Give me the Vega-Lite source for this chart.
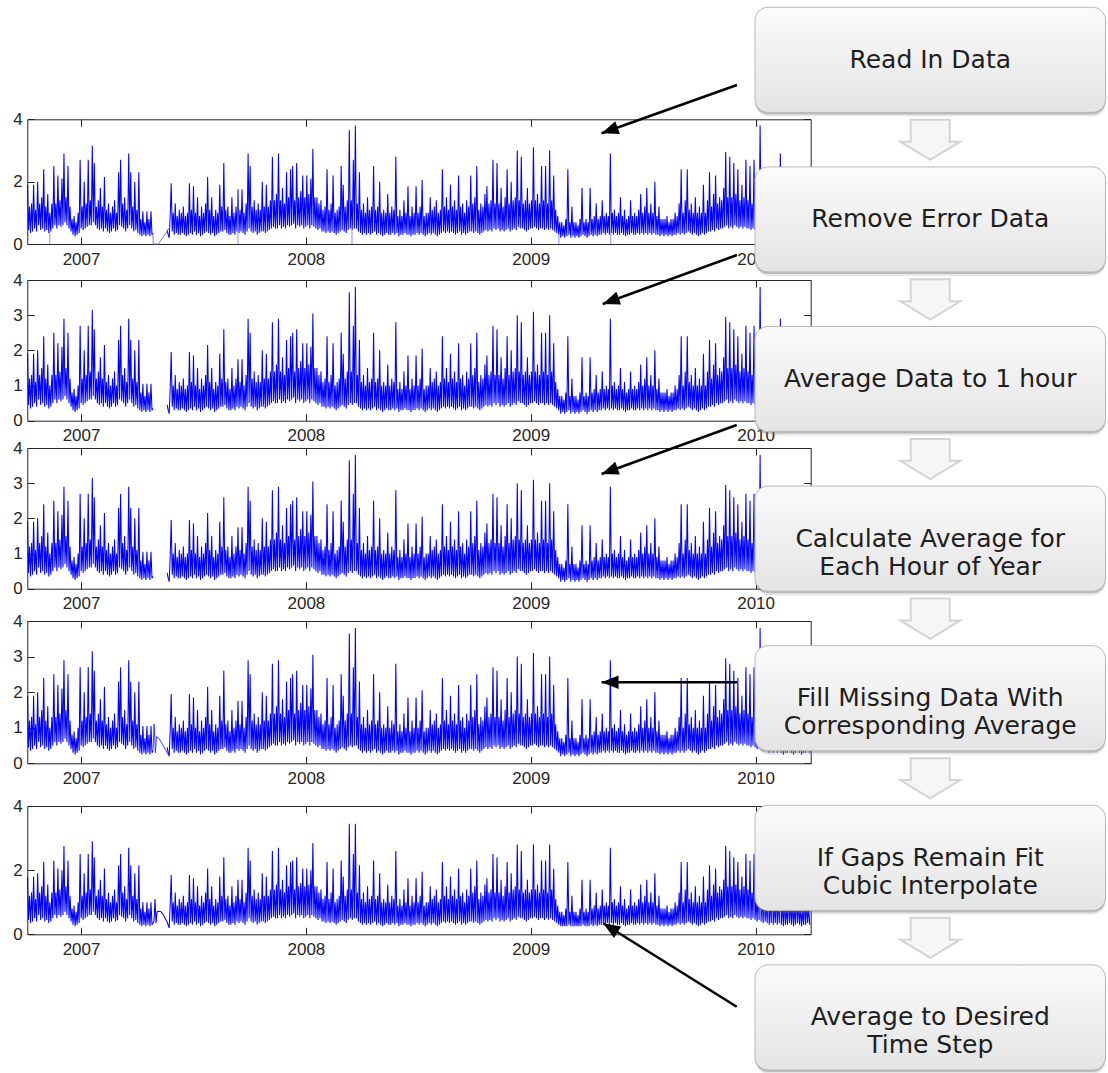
{
  "$schema": "https://vega.github.io/schema/vega-lite/v6.json",
  "width": 1108,
  "height": 1073,
  "autosize": {"type": "none"},
  "padding": 0,
  "background": "#ffffff",
  "config": {
    "view": {"stroke": null},
    "axis": {"grid": false, "labelFont": "Liberation Sans", "labelFontSize": 17, "labelColor": "#262626", "domainColor": "#262626", "tickColor": "#262626", "domainWidth": 1, "tickWidth": 1, "labelFlush": false, "labelOverlap": false}
  },
  "datasets": {
    "series": [
      {"t":2006.762,"v":1.9,"s":1.8},{"t":2006.7665,"v":0.45,"s":0.45},{"t":2006.771,"v":1.2,"s":1.2},{"t":2006.7755,"v":0.35,"s":0.35},
      {"t":2006.780,"v":1.3,"s":1.3},{"t":2006.7845,"v":0.4,"s":0.4},{"t":2006.789,"v":1.9,"s":1.8},{"t":2006.7935,"v":0.5,"s":0.5},
      {"t":2006.798,"v":1.1,"s":1.1},{"t":2006.8025,"v":0.4,"s":0.4},{"t":2006.807,"v":2.0,"s":1.9},{"t":2006.8115,"v":0.6,"s":0.6},
      {"t":2006.816,"v":1.3,"s":1.3},{"t":2006.8205,"v":0.45,"s":0.45},{"t":2006.825,"v":1.5,"s":1.5},{"t":2006.8295,"v":0.5,"s":0.5},
      {"t":2006.834,"v":2.4,"s":2.25},{"t":2006.8385,"v":0.4,"s":0.4},{"t":2006.843,"v":1.2,"s":1.2},{"t":2006.8475,"v":0.45,"s":0.45},
      {"t":2006.852,"v":1.6,"s":1.55},{"t":2006.8565,"v":0.35,"s":0.35},{"t":2006.861,"v":1.0,"s":1.0},{"t":2006.8655,"v":0.4,"s":0.4},
      {"t":2006.870,"v":1.3,"s":1.3},{"t":2006.8745,"v":0.5,"s":0.5},{"t":2006.879,"v":2.5,"s":2.3},{"t":2006.8835,"v":0.6,"s":0.6},
      {"t":2006.888,"v":1.3,"s":1.3},{"t":2006.8925,"v":0.5,"s":0.5},{"t":2006.897,"v":2.2,"s":2.05},{"t":2006.9015,"v":0.6,"s":0.6},
      {"t":2006.906,"v":1.4,"s":1.4},{"t":2006.9105,"v":0.55,"s":0.55},{"t":2006.915,"v":2.1,"s":2.0},{"t":2006.9195,"v":0.6,"s":0.6},
      {"t":2006.924,"v":2.9,"s":2.75},{"t":2006.9285,"v":0.7,"s":0.7},{"t":2006.933,"v":1.5,"s":1.5},{"t":2006.9375,"v":0.6,"s":0.6},
      {"t":2006.942,"v":2.5,"s":2.3},{"t":2006.9465,"v":0.5,"s":0.5},{"t":2006.951,"v":1.2,"s":1.2},{"t":2006.9555,"v":0.4,"s":0.4},
      {"t":2006.960,"v":0.8,"s":0.8},{"t":2006.9645,"v":0.3,"s":0.3},{"t":2006.969,"v":0.9,"s":0.9},{"t":2006.9735,"v":0.25,"s":0.25},
      {"t":2006.978,"v":0.7,"s":0.7},{"t":2006.9825,"v":0.3,"s":0.3},{"t":2006.987,"v":1.0,"s":1.0},{"t":2006.9915,"v":0.35,"s":0.35},
      {"t":2006.996,"v":2.7,"s":2.5},{"t":2007.0005,"v":0.5,"s":0.5},{"t":2007.005,"v":1.2,"s":1.2},{"t":2007.0095,"v":0.45,"s":0.45},
      {"t":2007.014,"v":2.0,"s":1.9},{"t":2007.0185,"v":0.5,"s":0.5},{"t":2007.023,"v":1.3,"s":1.3},{"t":2007.0275,"v":0.55,"s":0.55},
      {"t":2007.032,"v":2.7,"s":2.5},{"t":2007.0365,"v":0.6,"s":0.6},{"t":2007.041,"v":1.4,"s":1.4},{"t":2007.0455,"v":0.6,"s":0.6},
      {"t":2007.050,"v":3.15,"s":2.9},{"t":2007.0545,"v":0.7,"s":0.7},{"t":2007.059,"v":2.6,"s":2.4},{"t":2007.0635,"v":0.6,"s":0.6},
      {"t":2007.068,"v":1.2,"s":1.2},{"t":2007.0725,"v":0.5,"s":0.5},{"t":2007.077,"v":1.4,"s":1.4},{"t":2007.0815,"v":0.45,"s":0.45},
      {"t":2007.086,"v":1.8,"s":1.7},{"t":2007.0905,"v":0.5,"s":0.5},{"t":2007.095,"v":1.2,"s":1.2},{"t":2007.0995,"v":0.4,"s":0.4},
      {"t":2007.104,"v":2.15,"s":2.05},{"t":2007.1085,"v":0.5,"s":0.5},{"t":2007.113,"v":1.1,"s":1.1},{"t":2007.1175,"v":0.4,"s":0.4},
      {"t":2007.122,"v":1.3,"s":1.3},{"t":2007.1265,"v":0.35,"s":0.35},{"t":2007.131,"v":1.0,"s":1.0},{"t":2007.1355,"v":0.4,"s":0.4},
      {"t":2007.140,"v":1.2,"s":1.2},{"t":2007.1445,"v":0.5,"s":0.5},{"t":2007.149,"v":1.4,"s":1.4},{"t":2007.1535,"v":0.4,"s":0.4},
      {"t":2007.158,"v":1.0,"s":1.0},{"t":2007.1625,"v":0.45,"s":0.45},{"t":2007.167,"v":2.3,"s":2.15},{"t":2007.1715,"v":0.6,"s":0.6},
      {"t":2007.176,"v":2.7,"s":2.5},{"t":2007.1805,"v":0.55,"s":0.55},{"t":2007.185,"v":1.3,"s":1.3},{"t":2007.1895,"v":0.5,"s":0.5},
      {"t":2007.194,"v":1.5,"s":1.5},{"t":2007.1985,"v":0.4,"s":0.4},{"t":2007.203,"v":1.1,"s":1.1},{"t":2007.2075,"v":0.5,"s":0.5},
      {"t":2007.212,"v":2.9,"s":2.7},{"t":2007.2165,"v":0.6,"s":0.6},{"t":2007.221,"v":2.3,"s":2.15},{"t":2007.2255,"v":0.5,"s":0.5},
      {"t":2007.230,"v":1.2,"s":1.2},{"t":2007.2345,"v":0.4,"s":0.4},{"t":2007.239,"v":2.0,"s":1.9},{"t":2007.2435,"v":0.45,"s":0.45},
      {"t":2007.248,"v":1.1,"s":1.1},{"t":2007.2525,"v":0.35,"s":0.35},{"t":2007.257,"v":2.3,"s":2.15},{"t":2007.2615,"v":0.3,"s":0.3},
      {"t":2007.266,"v":0.8,"s":0.8},{"t":2007.2705,"v":0.25,"s":0.25},{"t":2007.275,"v":1.05,"s":1.0},{"t":2007.2795,"v":0.3,"s":0.3},
      {"t":2007.284,"v":0.7,"s":0.7},{"t":2007.2885,"v":0.25,"s":0.25},{"t":2007.293,"v":1.05,"s":1.0},{"t":2007.2975,"v":0.3,"s":0.3},
      {"t":2007.302,"v":0.8,"s":0.8},{"t":2007.3065,"v":0.25,"s":0.25},{"t":2007.311,"v":1.05,"s":1.0},{"t":2007.3155,"v":0.3,"s":0.3},
      {"t":2007.320,"v":0.35,"s":0.35},{"t":2007.3245,"s":0.4},{"t":2007.329,"s":1.1},{"t":2007.3335,"s":0.35},
      {"t":2007.338,"s":0.7},{"t":2007.3425,"s":0.71},{"t":2007.347,"s":0.72},{"t":2007.3515,"s":0.71},
      {"t":2007.356,"s":0.7},{"t":2007.3605,"s":0.66},{"t":2007.365,"s":0.62},{"t":2007.3695,"s":0.56},
      {"t":2007.374,"s":0.5},{"t":2007.3785,"s":0.44},{"t":2007.383,"v":0.45,"s":0.38},{"t":2007.3875,"v":0.3,"s":0.29},
      {"t":2007.392,"v":0.2,"s":0.2},{"t":2007.3965,"v":0.9,"s":0.9},{"t":2007.401,"v":1.95,"s":1.85},{"t":2007.4055,"v":0.4,"s":0.4},
      {"t":2007.410,"v":1.0,"s":1.0},{"t":2007.4145,"v":0.3,"s":0.3},{"t":2007.419,"v":1.3,"s":1.3},{"t":2007.4235,"v":0.35,"s":0.35},
      {"t":2007.428,"v":0.9,"s":0.9},{"t":2007.4325,"v":0.3,"s":0.3},{"t":2007.437,"v":1.1,"s":1.1},{"t":2007.4415,"v":0.3,"s":0.3},
      {"t":2007.446,"v":1.0,"s":1.0},{"t":2007.4505,"v":0.35,"s":0.35},{"t":2007.455,"v":1.2,"s":1.2},{"t":2007.4595,"v":0.3,"s":0.3},
      {"t":2007.464,"v":0.9,"s":0.9},{"t":2007.4685,"v":0.25,"s":0.25},{"t":2007.473,"v":1.0,"s":1.0},{"t":2007.4775,"v":0.3,"s":0.3},
      {"t":2007.482,"v":1.95,"s":1.85},{"t":2007.4865,"v":0.35,"s":0.35},{"t":2007.491,"v":1.1,"s":1.1},{"t":2007.4955,"v":0.3,"s":0.3},
      {"t":2007.500,"v":1.85,"s":1.75},{"t":2007.5045,"v":0.4,"s":0.4},{"t":2007.509,"v":1.0,"s":1.0},{"t":2007.5135,"v":0.3,"s":0.3},
      {"t":2007.518,"v":1.5,"s":1.5},{"t":2007.5225,"v":0.35,"s":0.35},{"t":2007.527,"v":0.9,"s":0.9},{"t":2007.5315,"v":0.25,"s":0.25},
      {"t":2007.536,"v":1.2,"s":1.2},{"t":2007.5405,"v":0.3,"s":0.3},{"t":2007.545,"v":1.0,"s":1.0},{"t":2007.5495,"v":0.35,"s":0.35},
      {"t":2007.554,"v":1.3,"s":1.3},{"t":2007.5585,"v":0.4,"s":0.4},{"t":2007.563,"v":2.15,"s":2.05},{"t":2007.5675,"v":0.35,"s":0.35},
      {"t":2007.572,"v":1.1,"s":1.1},{"t":2007.5765,"v":0.3,"s":0.3},{"t":2007.581,"v":1.5,"s":1.5},{"t":2007.5855,"v":0.35,"s":0.35},
      {"t":2007.590,"v":0.9,"s":0.9},{"t":2007.5945,"v":0.25,"s":0.25},{"t":2007.599,"v":1.1,"s":1.1},{"t":2007.6035,"v":0.3,"s":0.3},
      {"t":2007.608,"v":1.0,"s":1.0},{"t":2007.6125,"v":0.35,"s":0.35},{"t":2007.617,"v":1.9,"s":1.8},{"t":2007.6215,"v":0.4,"s":0.4},
      {"t":2007.626,"v":1.2,"s":1.2},{"t":2007.6305,"v":0.4,"s":0.4},{"t":2007.635,"v":2.6,"s":2.4},{"t":2007.6395,"v":0.45,"s":0.45},
      {"t":2007.644,"v":1.1,"s":1.1},{"t":2007.6485,"v":0.35,"s":0.35},{"t":2007.653,"v":1.2,"s":1.2},{"t":2007.6575,"v":0.3,"s":0.3},
      {"t":2007.662,"v":0.9,"s":0.9},{"t":2007.6665,"v":0.3,"s":0.3},{"t":2007.671,"v":1.5,"s":1.5},{"t":2007.6755,"v":0.35,"s":0.35},
      {"t":2007.680,"v":1.0,"s":1.0},{"t":2007.6845,"v":0.3,"s":0.3},{"t":2007.689,"v":1.2,"s":1.2},{"t":2007.6935,"v":0.4,"s":0.4},
      {"t":2007.698,"v":1.75,"s":1.7},{"t":2007.7025,"v":0.35,"s":0.35},{"t":2007.707,"v":1.1,"s":1.1},{"t":2007.7115,"v":0.4,"s":0.4},
      {"t":2007.716,"v":1.75,"s":1.7},{"t":2007.7205,"v":0.35,"s":0.35},{"t":2007.725,"v":1.0,"s":1.0},{"t":2007.7295,"v":0.3,"s":0.3},
      {"t":2007.734,"v":1.3,"s":1.3},{"t":2007.7385,"v":0.4,"s":0.4},{"t":2007.743,"v":2.9,"s":2.7},{"t":2007.7475,"v":0.5,"s":0.5},
      {"t":2007.752,"v":2.5,"s":2.3},{"t":2007.7565,"v":0.4,"s":0.4},{"t":2007.761,"v":1.2,"s":1.2},{"t":2007.7655,"v":0.35,"s":0.35},
      {"t":2007.770,"v":1.4,"s":1.4},{"t":2007.7745,"v":0.4,"s":0.4},{"t":2007.779,"v":1.1,"s":1.1},{"t":2007.7835,"v":0.3,"s":0.3},
      {"t":2007.788,"v":1.3,"s":1.3},{"t":2007.7925,"v":0.35,"s":0.35},{"t":2007.797,"v":1.1,"s":1.1},{"t":2007.8015,"v":0.4,"s":0.4},
      {"t":2007.806,"v":2.0,"s":1.9},{"t":2007.8105,"v":0.4,"s":0.4},{"t":2007.815,"v":1.2,"s":1.2},{"t":2007.8195,"v":0.35,"s":0.35},
      {"t":2007.824,"v":1.9,"s":1.8},{"t":2007.8285,"v":0.4,"s":0.4},{"t":2007.833,"v":1.2,"s":1.2},{"t":2007.8375,"v":0.45,"s":0.45},
      {"t":2007.842,"v":1.4,"s":1.4},{"t":2007.8465,"v":0.5,"s":0.5},{"t":2007.851,"v":2.8,"s":2.6},{"t":2007.8555,"v":0.55,"s":0.55},
      {"t":2007.860,"v":1.4,"s":1.4},{"t":2007.8645,"v":0.5,"s":0.5},{"t":2007.869,"v":1.6,"s":1.55},{"t":2007.8735,"v":0.5,"s":0.5},
      {"t":2007.878,"v":2.9,"s":2.7},{"t":2007.8825,"v":0.6,"s":0.6},{"t":2007.887,"v":1.4,"s":1.4},{"t":2007.8915,"v":0.5,"s":0.5},
      {"t":2007.896,"v":1.8,"s":1.7},{"t":2007.9005,"v":0.55,"s":0.55},{"t":2007.905,"v":1.3,"s":1.3},{"t":2007.9095,"v":0.5,"s":0.5},
      {"t":2007.914,"v":2.3,"s":2.15},{"t":2007.9185,"v":0.6,"s":0.6},{"t":2007.923,"v":1.5,"s":1.5},{"t":2007.9275,"v":0.55,"s":0.55},
      {"t":2007.932,"v":2.4,"s":2.25},{"t":2007.9365,"v":0.6,"s":0.6},{"t":2007.941,"v":2.5,"s":2.3},{"t":2007.9455,"v":0.65,"s":0.65},
      {"t":2007.950,"v":1.4,"s":1.4},{"t":2007.9545,"v":0.5,"s":0.5},{"t":2007.959,"v":2.6,"s":2.4},{"t":2007.9635,"v":0.6,"s":0.6},
      {"t":2007.968,"v":1.5,"s":1.5},{"t":2007.9725,"v":0.55,"s":0.55},{"t":2007.977,"v":1.7,"s":1.6},{"t":2007.9815,"v":0.6,"s":0.6},
      {"t":2007.986,"v":2.2,"s":2.05},{"t":2007.9905,"v":0.5,"s":0.5},{"t":2007.995,"v":1.5,"s":1.5},{"t":2007.9995,"v":0.55,"s":0.55},
      {"t":2008.004,"v":2.2,"s":2.05},{"t":2008.0085,"v":0.6,"s":0.6},{"t":2008.013,"v":1.6,"s":1.55},{"t":2008.0175,"v":0.5,"s":0.5},
      {"t":2008.022,"v":2.1,"s":2.0},{"t":2008.0265,"v":0.6,"s":0.6},{"t":2008.031,"v":3.05,"s":2.85},{"t":2008.0355,"v":0.55,"s":0.55},
      {"t":2008.040,"v":1.5,"s":1.5},{"t":2008.0445,"v":0.5,"s":0.5},{"t":2008.049,"v":1.5,"s":1.5},{"t":2008.0535,"v":0.45,"s":0.45},
      {"t":2008.058,"v":1.3,"s":1.3},{"t":2008.0625,"v":0.5,"s":0.5},{"t":2008.067,"v":1.4,"s":1.4},{"t":2008.0715,"v":0.4,"s":0.4},
      {"t":2008.076,"v":1.1,"s":1.1},{"t":2008.0805,"v":0.4,"s":0.4},{"t":2008.085,"v":1.2,"s":1.2},{"t":2008.0895,"v":0.35,"s":0.35},
      {"t":2008.094,"v":2.4,"s":2.25},{"t":2008.0985,"v":0.4,"s":0.4},{"t":2008.103,"v":1.1,"s":1.1},{"t":2008.1075,"v":0.35,"s":0.35},
      {"t":2008.112,"v":1.3,"s":1.3},{"t":2008.1165,"v":0.4,"s":0.4},{"t":2008.121,"v":2.2,"s":2.05},{"t":2008.1255,"v":0.35,"s":0.35},
      {"t":2008.130,"v":1.0,"s":1.0},{"t":2008.1345,"v":0.3,"s":0.3},{"t":2008.139,"v":1.1,"s":1.1},{"t":2008.1435,"v":0.35,"s":0.35},
      {"t":2008.148,"v":1.2,"s":1.2},{"t":2008.1525,"v":0.4,"s":0.4},{"t":2008.157,"v":2.5,"s":2.3},{"t":2008.1615,"v":0.45,"s":0.45},
      {"t":2008.166,"v":1.9,"s":1.8},{"t":2008.1705,"v":0.4,"s":0.4},{"t":2008.175,"v":1.2,"s":1.2},{"t":2008.1795,"v":0.35,"s":0.35},
      {"t":2008.184,"v":1.4,"s":1.4},{"t":2008.1885,"v":0.45,"s":0.45},{"t":2008.193,"v":3.65,"s":3.45},{"t":2008.1975,"v":0.5,"s":0.5},
      {"t":2008.202,"v":1.4,"s":1.4},{"t":2008.2065,"v":0.45,"s":0.45},{"t":2008.211,"v":2.7,"s":2.5},{"t":2008.2155,"v":0.5,"s":0.5},
      {"t":2008.220,"v":3.8,"s":3.45},{"t":2008.2245,"v":0.5,"s":0.5},{"t":2008.229,"v":1.3,"s":1.3},{"t":2008.2335,"v":0.4,"s":0.4},
      {"t":2008.238,"v":2.3,"s":2.15},{"t":2008.2425,"v":0.35,"s":0.35},{"t":2008.247,"v":1.1,"s":1.1},{"t":2008.2515,"v":0.3,"s":0.3},
      {"t":2008.256,"v":1.3,"s":1.3},{"t":2008.2605,"v":0.35,"s":0.35},{"t":2008.265,"v":1.0,"s":1.0},{"t":2008.2695,"v":0.3,"s":0.3},
      {"t":2008.274,"v":1.5,"s":1.5},{"t":2008.2785,"v":0.35,"s":0.35},{"t":2008.283,"v":1.1,"s":1.1},{"t":2008.2875,"v":0.3,"s":0.3},
      {"t":2008.292,"v":1.2,"s":1.2},{"t":2008.2965,"v":0.35,"s":0.35},{"t":2008.301,"v":2.5,"s":2.3},{"t":2008.3055,"v":0.4,"s":0.4},
      {"t":2008.310,"v":1.1,"s":1.1},{"t":2008.3145,"v":0.3,"s":0.3},{"t":2008.319,"v":1.2,"s":1.2},{"t":2008.3235,"v":0.35,"s":0.35},
      {"t":2008.328,"v":2.0,"s":1.9},{"t":2008.3325,"v":0.3,"s":0.3},{"t":2008.337,"v":1.0,"s":1.0},{"t":2008.3415,"v":0.25,"s":0.25},
      {"t":2008.346,"v":1.1,"s":1.1},{"t":2008.3505,"v":0.3,"s":0.3},{"t":2008.355,"v":1.0,"s":1.0},{"t":2008.3595,"v":0.35,"s":0.35},
      {"t":2008.364,"v":1.6,"s":1.55},{"t":2008.3685,"v":0.3,"s":0.3},{"t":2008.373,"v":1.0,"s":1.0},{"t":2008.3775,"v":0.3,"s":0.3},
      {"t":2008.382,"v":1.2,"s":1.2},{"t":2008.3865,"v":0.35,"s":0.35},{"t":2008.391,"v":1.1,"s":1.1},{"t":2008.3955,"v":0.3,"s":0.3},
      {"t":2008.400,"v":2.8,"s":2.6},{"t":2008.4045,"v":0.35,"s":0.35},{"t":2008.409,"v":0.9,"s":0.9},{"t":2008.4135,"v":0.25,"s":0.25},
      {"t":2008.418,"v":1.1,"s":1.1},{"t":2008.4225,"v":0.3,"s":0.3},{"t":2008.427,"v":0.9,"s":0.9},{"t":2008.4315,"v":0.3,"s":0.3},
      {"t":2008.436,"v":1.4,"s":1.4},{"t":2008.4405,"v":0.35,"s":0.35},{"t":2008.445,"v":1.0,"s":1.0},{"t":2008.4495,"v":0.3,"s":0.3},
      {"t":2008.454,"v":1.85,"s":1.75},{"t":2008.4585,"v":0.3,"s":0.3},{"t":2008.463,"v":0.9,"s":0.9},{"t":2008.4675,"v":0.25,"s":0.25},
      {"t":2008.472,"v":1.2,"s":1.2},{"t":2008.4765,"v":0.3,"s":0.3},{"t":2008.481,"v":1.0,"s":1.0},{"t":2008.4855,"v":0.3,"s":0.3},
      {"t":2008.490,"v":1.85,"s":1.75},{"t":2008.4945,"v":0.35,"s":0.35},{"t":2008.499,"v":1.0,"s":1.0},{"t":2008.5035,"v":0.3,"s":0.3},
      {"t":2008.508,"v":1.2,"s":1.2},{"t":2008.5125,"v":0.35,"s":0.35},{"t":2008.517,"v":2.05,"s":1.95},{"t":2008.5215,"v":0.3,"s":0.3},
      {"t":2008.526,"v":0.9,"s":0.9},{"t":2008.5305,"v":0.25,"s":0.25},{"t":2008.535,"v":1.0,"s":1.0},{"t":2008.5395,"v":0.3,"s":0.3},
      {"t":2008.544,"v":1.0,"s":1.0},{"t":2008.5485,"v":0.35,"s":0.35},{"t":2008.553,"v":1.5,"s":1.5},{"t":2008.5575,"v":0.3,"s":0.3},
      {"t":2008.562,"v":1.1,"s":1.1},{"t":2008.5665,"v":0.35,"s":0.35},{"t":2008.571,"v":1.2,"s":1.2},{"t":2008.5755,"v":0.3,"s":0.3},
      {"t":2008.580,"v":1.4,"s":1.4},{"t":2008.5845,"v":0.25,"s":0.25},{"t":2008.589,"v":1.0,"s":1.0},{"t":2008.5935,"v":0.3,"s":0.3},
      {"t":2008.598,"v":1.1,"s":1.1},{"t":2008.6025,"v":0.35,"s":0.35},{"t":2008.607,"v":2.4,"s":2.25},{"t":2008.6115,"v":0.4,"s":0.4},
      {"t":2008.616,"v":1.2,"s":1.2},{"t":2008.6205,"v":0.35,"s":0.35},{"t":2008.625,"v":1.5,"s":1.5},{"t":2008.6295,"v":0.4,"s":0.4},
      {"t":2008.634,"v":1.1,"s":1.1},{"t":2008.6385,"v":0.35,"s":0.35},{"t":2008.643,"v":1.9,"s":1.8},{"t":2008.6475,"v":0.4,"s":0.4},
      {"t":2008.652,"v":1.2,"s":1.2},{"t":2008.6565,"v":0.35,"s":0.35},{"t":2008.661,"v":1.4,"s":1.4},{"t":2008.6655,"v":0.3,"s":0.3},
      {"t":2008.670,"v":1.1,"s":1.1},{"t":2008.6745,"v":0.35,"s":0.35},{"t":2008.679,"v":2.2,"s":2.05},{"t":2008.6835,"v":0.4,"s":0.4},
      {"t":2008.688,"v":1.2,"s":1.2},{"t":2008.6925,"v":0.3,"s":0.3},{"t":2008.697,"v":1.3,"s":1.3},{"t":2008.7015,"v":0.35,"s":0.35},
      {"t":2008.706,"v":1.0,"s":1.0},{"t":2008.7105,"v":0.3,"s":0.3},{"t":2008.715,"v":1.4,"s":1.4},{"t":2008.7195,"v":0.35,"s":0.35},
      {"t":2008.724,"v":1.2,"s":1.2},{"t":2008.7285,"v":0.4,"s":0.4},{"t":2008.733,"v":2.2,"s":2.05},{"t":2008.7375,"v":0.4,"s":0.4},
      {"t":2008.742,"v":1.3,"s":1.3},{"t":2008.7465,"v":0.35,"s":0.35},{"t":2008.751,"v":1.5,"s":1.5},{"t":2008.7555,"v":0.4,"s":0.4},
      {"t":2008.760,"v":2.5,"s":2.3},{"t":2008.7645,"v":0.35,"s":0.35},{"t":2008.769,"v":1.1,"s":1.1},{"t":2008.7735,"v":0.3,"s":0.3},
      {"t":2008.778,"v":1.3,"s":1.3},{"t":2008.7825,"v":0.35,"s":0.35},{"t":2008.787,"v":1.2,"s":1.2},{"t":2008.7915,"v":0.4,"s":0.4},
      {"t":2008.796,"v":1.6,"s":1.55},{"t":2008.8005,"v":0.45,"s":0.45},{"t":2008.805,"v":1.85,"s":1.75},{"t":2008.8095,"v":0.4,"s":0.4},
      {"t":2008.814,"v":1.3,"s":1.3},{"t":2008.8185,"v":0.45,"s":0.45},{"t":2008.823,"v":1.4,"s":1.4},{"t":2008.8275,"v":0.4,"s":0.4},
      {"t":2008.832,"v":2.7,"s":2.5},{"t":2008.8365,"v":0.5,"s":0.5},{"t":2008.841,"v":1.3,"s":1.3},{"t":2008.8455,"v":0.45,"s":0.45},
      {"t":2008.850,"v":2.6,"s":2.4},{"t":2008.8545,"v":0.5,"s":0.5},{"t":2008.859,"v":1.3,"s":1.3},{"t":2008.8635,"v":0.4,"s":0.4},
      {"t":2008.868,"v":1.8,"s":1.7},{"t":2008.8725,"v":0.45,"s":0.45},{"t":2008.877,"v":1.2,"s":1.2},{"t":2008.8815,"v":0.4,"s":0.4},
      {"t":2008.886,"v":1.5,"s":1.5},{"t":2008.8905,"v":0.45,"s":0.45},{"t":2008.895,"v":2.4,"s":2.25},{"t":2008.8995,"v":0.5,"s":0.5},
      {"t":2008.904,"v":1.3,"s":1.3},{"t":2008.9085,"v":0.4,"s":0.4},{"t":2008.913,"v":2.0,"s":1.9},{"t":2008.9175,"v":0.45,"s":0.45},
      {"t":2008.922,"v":1.4,"s":1.4},{"t":2008.9265,"v":0.5,"s":0.5},{"t":2008.931,"v":1.5,"s":1.5},{"t":2008.9355,"v":0.45,"s":0.45},
      {"t":2008.940,"v":3.0,"s":2.8},{"t":2008.9445,"v":0.55,"s":0.55},{"t":2008.949,"v":1.4,"s":1.4},{"t":2008.9535,"v":0.5,"s":0.5},
      {"t":2008.958,"v":2.8,"s":2.6},{"t":2008.9625,"v":0.5,"s":0.5},{"t":2008.967,"v":1.3,"s":1.3},{"t":2008.9715,"v":0.45,"s":0.45},
      {"t":2008.976,"v":1.4,"s":1.4},{"t":2008.9805,"v":0.4,"s":0.4},{"t":2008.985,"v":1.8,"s":1.7},{"t":2008.9895,"v":0.45,"s":0.45},
      {"t":2008.994,"v":1.3,"s":1.3},{"t":2008.9985,"v":0.5,"s":0.5},{"t":2009.003,"v":1.4,"s":1.4},{"t":2009.0075,"v":0.5,"s":0.5},
      {"t":2009.012,"v":3.1,"s":2.8},{"t":2009.0165,"v":0.55,"s":0.55},{"t":2009.021,"v":1.4,"s":1.4},{"t":2009.0255,"v":0.5,"s":0.5},
      {"t":2009.030,"v":1.6,"s":1.55},{"t":2009.0345,"v":0.45,"s":0.45},{"t":2009.039,"v":1.3,"s":1.3},{"t":2009.0435,"v":0.5,"s":0.5},
      {"t":2009.048,"v":2.5,"s":2.3},{"t":2009.0525,"v":0.5,"s":0.5},{"t":2009.057,"v":1.4,"s":1.4},{"t":2009.0615,"v":0.45,"s":0.45},
      {"t":2009.066,"v":2.5,"s":2.3},{"t":2009.0705,"v":0.5,"s":0.5},{"t":2009.075,"v":1.3,"s":1.3},{"t":2009.0795,"v":0.45,"s":0.45},
      {"t":2009.084,"v":3.0,"s":2.8},{"t":2009.0885,"v":0.5,"s":0.5},{"t":2009.093,"v":1.4,"s":1.4},{"t":2009.0975,"v":0.45,"s":0.45},
      {"t":2009.102,"v":2.2,"s":2.05},{"t":2009.1065,"v":0.4,"s":0.4},{"t":2009.111,"v":1.1,"s":1.1},{"t":2009.1155,"v":0.35,"s":0.35},
      {"t":2009.120,"v":0.9,"s":0.9},{"t":2009.1245,"v":0.3,"s":0.3},{"t":2009.129,"v":0.7,"s":0.7},{"t":2009.1335,"v":0.2,"s":0.25},
      {"t":2009.138,"v":0.7,"s":0.7},{"t":2009.1425,"v":0.25,"s":0.25},{"t":2009.147,"v":0.6,"s":0.6},{"t":2009.1515,"v":0.2,"s":0.25},
      {"t":2009.156,"v":0.8,"s":0.8},{"t":2009.1605,"v":0.25,"s":0.25},{"t":2009.165,"v":2.4,"s":2.25},{"t":2009.1695,"v":0.3,"s":0.3},
      {"t":2009.174,"v":0.7,"s":0.7},{"t":2009.1785,"v":0.2,"s":0.25},{"t":2009.183,"v":1.2,"s":1.2},{"t":2009.1875,"v":0.25,"s":0.25},
      {"t":2009.192,"v":0.7,"s":0.7},{"t":2009.1965,"v":0.2,"s":0.25},{"t":2009.201,"v":0.7,"s":0.7},{"t":2009.2055,"v":0.25,"s":0.25},
      {"t":2009.210,"v":0.6,"s":0.6},{"t":2009.2145,"v":0.2,"s":0.25},{"t":2009.219,"v":0.8,"s":0.8},{"t":2009.2235,"v":0.25,"s":0.25},
      {"t":2009.228,"v":1.8,"s":1.7},{"t":2009.2325,"v":0.3,"s":0.3},{"t":2009.237,"v":0.7,"s":0.7},{"t":2009.2415,"v":0.25,"s":0.25},
      {"t":2009.246,"v":0.8,"s":0.8},{"t":2009.2505,"v":0.2,"s":0.25},{"t":2009.255,"v":0.7,"s":0.7},{"t":2009.2595,"v":0.25,"s":0.25},
      {"t":2009.264,"v":1.8,"s":1.7},{"t":2009.2685,"v":0.3,"s":0.3},{"t":2009.273,"v":0.8,"s":0.8},{"t":2009.2775,"v":0.25,"s":0.25},
      {"t":2009.282,"v":0.9,"s":0.9},{"t":2009.2865,"v":0.3,"s":0.3},{"t":2009.291,"v":1.3,"s":1.3},{"t":2009.2955,"v":0.25,"s":0.25},
      {"t":2009.300,"v":0.8,"s":0.8},{"t":2009.3045,"v":0.3,"s":0.3},{"t":2009.309,"v":0.9,"s":0.9},{"t":2009.3135,"v":0.3,"s":0.3},
      {"t":2009.318,"v":1.4,"s":1.4},{"t":2009.3225,"v":0.35,"s":0.35},{"t":2009.327,"v":0.9,"s":0.9},{"t":2009.3315,"v":0.3,"s":0.3},
      {"t":2009.336,"v":1.0,"s":1.0},{"t":2009.3405,"v":0.35,"s":0.35},{"t":2009.345,"v":0.9,"s":0.9},{"t":2009.3495,"v":0.3,"s":0.3},
      {"t":2009.354,"v":2.9,"s":2.7},{"t":2009.3585,"v":0.35,"s":0.35},{"t":2009.363,"v":1.0,"s":1.0},{"t":2009.3675,"v":0.3,"s":0.3},
      {"t":2009.372,"v":1.1,"s":1.1},{"t":2009.3765,"v":0.35,"s":0.35},{"t":2009.381,"v":0.9,"s":0.9},{"t":2009.3855,"v":0.3,"s":0.3},
      {"t":2009.390,"v":1.0,"s":1.0},{"t":2009.3945,"v":0.3,"s":0.3},{"t":2009.399,"v":1.5,"s":1.5},{"t":2009.4035,"v":0.35,"s":0.35},
      {"t":2009.408,"v":0.9,"s":0.9},{"t":2009.4125,"v":0.3,"s":0.3},{"t":2009.417,"v":1.1,"s":1.1},{"t":2009.4215,"v":0.25,"s":0.25},
      {"t":2009.426,"v":0.8,"s":0.8},{"t":2009.4305,"v":0.3,"s":0.3},{"t":2009.435,"v":0.9,"s":0.9},{"t":2009.4395,"v":0.3,"s":0.3},
      {"t":2009.444,"v":1.4,"s":1.4},{"t":2009.4485,"v":0.35,"s":0.35},{"t":2009.453,"v":0.9,"s":0.9},{"t":2009.4575,"v":0.3,"s":0.3},
      {"t":2009.462,"v":1.0,"s":1.0},{"t":2009.4665,"v":0.3,"s":0.3},{"t":2009.471,"v":0.9,"s":0.9},{"t":2009.4755,"v":0.35,"s":0.35},
      {"t":2009.480,"v":1.1,"s":1.1},{"t":2009.4845,"v":0.3,"s":0.3},{"t":2009.489,"v":1.6,"s":1.55},{"t":2009.4935,"v":0.35,"s":0.35},
      {"t":2009.498,"v":1.0,"s":1.0},{"t":2009.5025,"v":0.3,"s":0.3},{"t":2009.507,"v":1.2,"s":1.2},{"t":2009.5115,"v":0.35,"s":0.35},
      {"t":2009.516,"v":1.8,"s":1.7},{"t":2009.5205,"v":0.3,"s":0.3},{"t":2009.525,"v":1.0,"s":1.0},{"t":2009.5295,"v":0.35,"s":0.35},
      {"t":2009.534,"v":1.3,"s":1.3},{"t":2009.5385,"v":0.3,"s":0.3},{"t":2009.543,"v":1.0,"s":1.0},{"t":2009.5475,"v":0.35,"s":0.35},
      {"t":2009.552,"v":2.0,"s":1.9},{"t":2009.5565,"v":0.3,"s":0.3},{"t":2009.561,"v":0.9,"s":0.9},{"t":2009.5655,"v":0.3,"s":0.3},
      {"t":2009.570,"v":1.2,"s":1.2},{"t":2009.5745,"v":0.25,"s":0.25},{"t":2009.579,"v":0.8,"s":0.8},{"t":2009.5835,"v":0.3,"s":0.3},
      {"t":2009.588,"v":0.8,"s":0.8},{"t":2009.5925,"v":0.25,"s":0.25},{"t":2009.597,"v":0.8,"s":0.8},{"t":2009.6015,"v":0.3,"s":0.3},
      {"t":2009.606,"v":0.9,"s":0.9},{"t":2009.6105,"v":0.25,"s":0.25},{"t":2009.615,"v":0.7,"s":0.7},{"t":2009.6195,"v":0.3,"s":0.3},
      {"t":2009.624,"v":0.8,"s":0.8},{"t":2009.6285,"v":0.25,"s":0.25},{"t":2009.633,"v":0.8,"s":0.8},{"t":2009.6375,"v":0.3,"s":0.3},
      {"t":2009.642,"v":1.0,"s":1.0},{"t":2009.6465,"v":0.3,"s":0.3},{"t":2009.651,"v":0.9,"s":0.9},{"t":2009.6555,"v":0.35,"s":0.35},
      {"t":2009.660,"v":1.3,"s":1.3},{"t":2009.6645,"v":0.3,"s":0.3},{"t":2009.669,"v":2.4,"s":2.25},{"t":2009.6735,"v":0.35,"s":0.35},
      {"t":2009.678,"v":1.0,"s":1.0},{"t":2009.6825,"v":0.3,"s":0.3},{"t":2009.687,"v":1.4,"s":1.4},{"t":2009.6915,"v":0.35,"s":0.35},
      {"t":2009.696,"v":2.4,"s":2.25},{"t":2009.7005,"v":0.4,"s":0.4},{"t":2009.705,"v":1.1,"s":1.1},{"t":2009.7095,"v":0.35,"s":0.35},
      {"t":2009.714,"v":1.3,"s":1.3},{"t":2009.7185,"v":0.3,"s":0.3},{"t":2009.723,"v":1.0,"s":1.0},{"t":2009.7275,"v":0.35,"s":0.35},
      {"t":2009.732,"v":1.5,"s":1.5},{"t":2009.7365,"v":0.3,"s":0.3},{"t":2009.741,"v":1.0,"s":1.0},{"t":2009.7455,"v":0.25,"s":0.25},
      {"t":2009.750,"v":1.2,"s":1.2},{"t":2009.7545,"v":0.3,"s":0.3},{"t":2009.759,"v":1.0,"s":1.0},{"t":2009.7635,"v":0.35,"s":0.35},
      {"t":2009.768,"v":1.9,"s":1.8},{"t":2009.7725,"v":0.3,"s":0.3},{"t":2009.777,"v":1.0,"s":1.0},{"t":2009.7815,"v":0.35,"s":0.35},
      {"t":2009.786,"v":1.4,"s":1.4},{"t":2009.7905,"v":0.4,"s":0.4},{"t":2009.795,"v":2.3,"s":2.15},{"t":2009.7995,"v":0.4,"s":0.4},
      {"t":2009.804,"v":1.2,"s":1.2},{"t":2009.8085,"v":0.45,"s":0.45},{"t":2009.813,"v":1.6,"s":1.55},{"t":2009.8175,"v":0.4,"s":0.4},
      {"t":2009.822,"v":2.2,"s":2.05},{"t":2009.8265,"v":0.5,"s":0.5},{"t":2009.831,"v":1.3,"s":1.3},{"t":2009.8355,"v":0.45,"s":0.45},
      {"t":2009.840,"v":1.5,"s":1.5},{"t":2009.8445,"v":0.5,"s":0.5},{"t":2009.849,"v":1.4,"s":1.4},{"t":2009.8535,"v":0.5,"s":0.5},
      {"t":2009.858,"v":1.8,"s":1.7},{"t":2009.8625,"v":0.55,"s":0.55},{"t":2009.867,"v":2.95,"s":2.75},{"t":2009.8715,"v":0.6,"s":0.6},
      {"t":2009.876,"v":1.5,"s":1.5},{"t":2009.8805,"v":0.5,"s":0.5},{"t":2009.885,"v":2.8,"s":2.6},{"t":2009.8895,"v":0.55,"s":0.55},
      {"t":2009.894,"v":1.5,"s":1.5},{"t":2009.8985,"v":0.5,"s":0.5},{"t":2009.903,"v":2.6,"s":2.4},{"t":2009.9075,"v":0.6,"s":0.6},
      {"t":2009.912,"v":1.6,"s":1.55},{"t":2009.9165,"v":0.55,"s":0.55},{"t":2009.921,"v":2.4,"s":2.25},{"t":2009.9255,"v":0.5,"s":0.5},
      {"t":2009.930,"v":1.4,"s":1.4},{"t":2009.9345,"v":0.55,"s":0.55},{"t":2009.939,"v":1.9,"s":1.8},{"t":2009.9435,"v":0.5,"s":0.5},
      {"t":2009.948,"v":1.5,"s":1.5},{"t":2009.9525,"v":0.55,"s":0.55},{"t":2009.957,"v":2.7,"s":2.5},{"t":2009.9615,"v":0.5,"s":0.5},
      {"t":2009.966,"v":1.4,"s":1.4},{"t":2009.9705,"v":0.5,"s":0.5},{"t":2009.975,"v":2.5,"s":2.3},{"t":2009.9795,"v":0.45,"s":0.45},
      {"t":2009.984,"v":1.3,"s":1.3},{"t":2009.9885,"v":0.5,"s":0.5},{"t":2009.993,"v":2.7,"s":2.5},{"t":2009.9975,"v":0.45,"s":0.45},
      {"t":2010.002,"v":1.1,"s":1.1},{"t":2010.0065,"v":0.4,"s":0.4},{"t":2010.011,"v":1.4,"s":1.4},{"t":2010.0155,"v":0.45,"s":0.45},
      {"t":2010.020,"v":3.8,"s":3.45},{"t":2010.0245,"v":0.4,"s":0.4},{"t":2010.029,"v":1.2,"s":1.2},{"t":2010.0335,"v":0.35,"s":0.35},
      {"t":2010.038,"v":1.3,"s":1.3},{"t":2010.0425,"v":0.4,"s":0.4},{"t":2010.047,"v":1.0,"s":1.0},{"t":2010.0515,"v":0.35,"s":0.35},
      {"t":2010.056,"v":1.5,"s":1.5},{"t":2010.0605,"v":0.3,"s":0.3},{"t":2010.065,"v":1.1,"s":1.1},{"t":2010.0695,"v":0.35,"s":0.35},
      {"t":2010.074,"v":2.0,"s":1.9},{"t":2010.0785,"v":0.3,"s":0.3},{"t":2010.083,"v":1.0,"s":1.0},{"t":2010.0875,"v":0.35,"s":0.35},
      {"t":2010.092,"v":1.2,"s":1.2},{"t":2010.0965,"v":0.3,"s":0.3},{"t":2010.101,"v":1.1,"s":1.1},{"t":2010.1055,"v":0.35,"s":0.35},
      {"t":2010.110,"v":2.9,"s":2.7},{"t":2010.1145,"v":0.3,"s":0.3},{"t":2010.119,"v":1.0,"s":1.0},{"t":2010.1235,"v":0.25,"s":0.25},
      {"t":2010.128,"v":1.1,"s":1.1},{"t":2010.1325,"v":0.3,"s":0.3},{"t":2010.137,"v":0.9,"s":0.9},{"t":2010.1415,"v":0.3,"s":0.3},
      {"t":2010.146,"v":1.3,"s":1.3},{"t":2010.1505,"v":0.35,"s":0.35},{"t":2010.155,"v":1.0,"s":1.0},{"t":2010.1595,"v":0.3,"s":0.3},
      {"t":2010.164,"v":1.0,"s":1.0},{"t":2010.1685,"v":0.25,"s":0.25},{"t":2010.173,"v":0.9,"s":0.9},{"t":2010.1775,"v":0.3,"s":0.3},
      {"t":2010.182,"v":1.2,"s":1.2},{"t":2010.1865,"v":0.35,"s":0.35},{"t":2010.191,"v":1.0,"s":1.0},{"t":2010.1955,"v":0.3,"s":0.3},
      {"t":2010.200,"v":0.9,"s":0.9},{"t":2010.2045,"v":0.25,"s":0.25},{"t":2010.209,"v":0.8,"s":0.8},{"t":2010.2135,"v":0.3,"s":0.3},
      {"t":2010.218,"v":1.1,"s":1.1},{"t":2010.2225,"v":0.3,"s":0.3},{"t":2010.227,"v":1.0,"s":1.0},{"t":2010.2315,"v":0.35,"s":0.35},
      {"t":2010.236,"v":0.9,"s":0.9},{"t":2010.2405,"v":0.3,"s":0.3}
    ],
    "errorDips": [
      {"t":2006.861,"v":0.4},{"t":2007.698,"v":1.75},{"t":2008.205,"v":0.6},{"t":2009.125,"v":0.3},{"t":2009.356,"v":0.5}
    ],
    "rawGap": [
      {"t":2007.320,"v":0.35},{"t":2007.321,"v":0},{"t":2007.344,"v":0},{"t":2007.396,"v":0.55}
    ],
    "filledGap": [
      {"t":2007.320,"v":0.35},{"t":2007.325,"v":1.1},{"t":2007.331,"v":0.3},{"t":2007.335,"v":0.75},{"t":2007.347,"v":0.7},{"t":2007.392,"v":0.2}
    ],
    "steps": [
      {"step":1,"label":["Read In Data"]},
      {"step":2,"label":["Remove Error Data"]},
      {"step":3,"label":["Average Data to 1 hour"]},
      {"step":4,"label":["Calculate Average for","Each Hour of Year"]},
      {"step":5,"label":["Fill Missing Data With","Corresponding Average"]},
      {"step":6,"label":["If Gaps Remain Fit","Cubic Interpolate"]},
      {"step":7,"label":["Average to Desired","Time Step"]}
    ]
  },
  "layer": [
    {
      "layer": [
        {
          "data": {"name": "series"},
          "mark": {"type": "line", "color": "#0000ff", "strokeWidth": 1.05, "strokeJoin": "bevel", "invalid": "break-paths-show-domains"},
          "encoding": {
            "x": {"field": "t", "type": "quantitative", "scale": {"domain": [2006.761, 2010.245], "range": [27.3, 810.7], "nice": false, "zero": false},
                  "axis": {"orient": "bottom", "offset": -829, "values": [2007, 2008, 2009, 2010], "format": "d", "tickSize": -7, "labelPadding": 14, "title": null}},
            "y": {"field": "v", "type": "quantitative", "scale": {"domain": [0, 4], "range": [244, 119.3], "nice": false, "zero": false},
                  "axis": {"orient": "left", "offset": -27.3, "values": [0, 2, 4], "tickSize": -7, "labelPadding": 12, "title": null}}
          }
        },
        {
          "data": {"name": "errorDips"},
          "mark": {"type": "rule", "color": "#8080ff", "strokeWidth": 0.9},
          "encoding": {
            "x": {"field": "t", "type": "quantitative", "axis": null},
            "y": {"field": "v", "type": "quantitative", "axis": null},
            "y2": {"datum": 0}
          }
        },
        {
          "data": {"name": "rawGap"},
          "mark": {"type": "line", "color": "#6a6aff", "strokeWidth": 0.9},
          "encoding": {
            "x": {"field": "t", "type": "quantitative", "axis": null},
            "y": {"field": "v", "type": "quantitative", "axis": null}
          }
        },
        {
          "data": {"values": [{}]},
          "mark": {"type": "rect", "opacity": 0},
          "encoding": {
            "x": {"datum": 2006.761, "type": "quantitative", "axis": {"orient": "top", "offset": -119.3, "values": [2007, 2008, 2009, 2010], "tickSize": -7, "labels": false, "title": null}},
            "x2": {"datum": 2010.245},
            "y": {"datum": 0, "type": "quantitative", "axis": {"orient": "right", "offset": -297.3, "values": [0, 2, 4], "tickSize": -7, "labels": false, "title": null}},
            "y2": {"datum": 4}
          }
        },
        {
          "data": {"values": [{"t0": 2009.917, "v0": 5.1, "t1": 2009.315, "v1": 3.551}]},
          "mark": {"type": "rule", "color": "#000000", "strokeWidth": 2.5},
          "encoding": {
            "x": {"field": "t0", "type": "quantitative", "axis": null},
            "y": {"field": "v0", "type": "quantitative", "axis": null},
            "x2": {"field": "t1"},
            "y2": {"field": "v1"}
          }
        },
        {
          "data": {"values": [{"t1": 2009.315, "v1": 3.551}]},
          "mark": {"type": "point", "shape": "M0,0L-1,-0.4L-1,0.4Z", "size": 1156, "angle": 160.3, "filled": true, "color": "#000000", "opacity": 1, "strokeWidth": 0},
          "encoding": {
            "x": {"field": "t1", "type": "quantitative", "axis": null},
            "y": {"field": "v1", "type": "quantitative", "axis": null}
          }
        }
      ],
      "resolve": {"axis": {"x": "independent", "y": "independent"}}
    },
    {
      "layer": [
        {
          "data": {"name": "series"},
          "mark": {"type": "line", "color": "#0000ff", "strokeWidth": 1.05, "strokeJoin": "bevel", "invalid": "break-paths-show-domains"},
          "encoding": {
            "x": {"field": "t", "type": "quantitative", "scale": {"domain": [2006.761, 2010.245], "range": [27.3, 810.7], "nice": false, "zero": false},
                  "axis": {"orient": "bottom", "offset": -652.3, "values": [2007, 2008, 2009, 2010], "format": "d", "tickSize": -7, "labelPadding": 14, "title": null}},
            "y": {"field": "v", "type": "quantitative", "scale": {"domain": [0, 4], "range": [420.7, 280], "nice": false, "zero": false},
                  "axis": {"orient": "left", "offset": -27.3, "values": [0, 1, 2, 3, 4], "tickSize": -7, "labelPadding": 12, "title": null}}
          }
        },
        {
          "data": {"values": [{}]},
          "mark": {"type": "rect", "opacity": 0},
          "encoding": {
            "x": {"datum": 2006.761, "type": "quantitative", "axis": {"orient": "top", "offset": -280, "values": [2007, 2008, 2009, 2010], "tickSize": -7, "labels": false, "title": null}},
            "x2": {"datum": 2010.245},
            "y": {"datum": 0, "type": "quantitative", "axis": {"orient": "right", "offset": -297.3, "values": [0, 1, 2, 3, 4], "tickSize": -7, "labels": false, "title": null}},
            "y2": {"datum": 4}
          }
        },
        {
          "data": {"values": [{"t0": 2009.917, "v0": 4.711, "t1": 2009.32, "v1": 3.318}]},
          "mark": {"type": "rule", "color": "#000000", "strokeWidth": 2.5},
          "encoding": {
            "x": {"field": "t0", "type": "quantitative", "axis": null},
            "y": {"field": "v0", "type": "quantitative", "axis": null},
            "x2": {"field": "t1"},
            "y2": {"field": "v1"}
          }
        },
        {
          "data": {"values": [{"t1": 2009.32, "v1": 3.318}]},
          "mark": {"type": "point", "shape": "M0,0L-1,-0.4L-1,0.4Z", "size": 1156, "angle": 160.0, "filled": true, "color": "#000000", "opacity": 1, "strokeWidth": 0},
          "encoding": {
            "x": {"field": "t1", "type": "quantitative", "axis": null},
            "y": {"field": "v1", "type": "quantitative", "axis": null}
          }
        }
      ],
      "resolve": {"axis": {"x": "independent", "y": "independent"}}
    },
    {
      "layer": [
        {
          "data": {"name": "series"},
          "mark": {"type": "line", "color": "#0000ff", "strokeWidth": 1.05, "strokeJoin": "bevel", "invalid": "break-paths-show-domains"},
          "encoding": {
            "x": {"field": "t", "type": "quantitative", "scale": {"domain": [2006.761, 2010.245], "range": [27.3, 810.7], "nice": false, "zero": false},
                  "axis": {"orient": "bottom", "offset": -484.3, "values": [2007, 2008, 2009, 2010], "format": "d", "tickSize": -7, "labelPadding": 14, "title": null}},
            "y": {"field": "v", "type": "quantitative", "scale": {"domain": [0, 4], "range": [588.7, 448], "nice": false, "zero": false},
                  "axis": {"orient": "left", "offset": -27.3, "values": [0, 1, 2, 3, 4], "tickSize": -7, "labelPadding": 12, "title": null}}
          }
        },
        {
          "data": {"values": [{}]},
          "mark": {"type": "rect", "opacity": 0},
          "encoding": {
            "x": {"datum": 2006.761, "type": "quantitative", "axis": {"orient": "top", "offset": -448, "values": [2007, 2008, 2009, 2010], "tickSize": -7, "labels": false, "title": null}},
            "x2": {"datum": 2010.245},
            "y": {"datum": 0, "type": "quantitative", "axis": {"orient": "right", "offset": -297.3, "values": [0, 1, 2, 3, 4], "tickSize": -7, "labels": false, "title": null}},
            "y2": {"datum": 4}
          }
        },
        {
          "data": {"values": [{"t0": 2009.916, "v0": 4.654, "t1": 2009.315, "v1": 3.261}]},
          "mark": {"type": "rule", "color": "#000000", "strokeWidth": 2.5},
          "encoding": {
            "x": {"field": "t0", "type": "quantitative", "axis": null},
            "y": {"field": "v0", "type": "quantitative", "axis": null},
            "x2": {"field": "t1"},
            "y2": {"field": "v1"}
          }
        },
        {
          "data": {"values": [{"t1": 2009.315, "v1": 3.261}]},
          "mark": {"type": "point", "shape": "M0,0L-1,-0.4L-1,0.4Z", "size": 1156, "angle": 160.0, "filled": true, "color": "#000000", "opacity": 1, "strokeWidth": 0},
          "encoding": {
            "x": {"field": "t1", "type": "quantitative", "axis": null},
            "y": {"field": "v1", "type": "quantitative", "axis": null}
          }
        }
      ],
      "resolve": {"axis": {"x": "independent", "y": "independent"}}
    },
    {
      "layer": [
        {
          "data": {"name": "series"},
          "mark": {"type": "line", "color": "#0000ff", "strokeWidth": 1.05, "strokeJoin": "bevel", "invalid": "break-paths-show-domains"},
          "encoding": {
            "x": {"field": "t", "type": "quantitative", "scale": {"domain": [2006.761, 2010.245], "range": [27.3, 810.7], "nice": false, "zero": false},
                  "axis": {"orient": "bottom", "offset": -309.7, "values": [2007, 2008, 2009, 2010], "format": "d", "tickSize": -7, "labelPadding": 14, "title": null}},
            "y": {"field": "v", "type": "quantitative", "scale": {"domain": [0, 4], "range": [763.3, 621], "nice": false, "zero": false},
                  "axis": {"orient": "left", "offset": -27.3, "values": [0, 1, 2, 3, 4], "tickSize": -7, "labelPadding": 12, "title": null}}
          }
        },
        {
          "data": {"name": "filledGap"},
          "mark": {"type": "line", "color": "#2a2aff", "strokeWidth": 0.9},
          "encoding": {
            "x": {"field": "t", "type": "quantitative", "axis": null},
            "y": {"field": "v", "type": "quantitative", "axis": null}
          }
        },
        {
          "data": {"values": [{}]},
          "mark": {"type": "rect", "opacity": 0},
          "encoding": {
            "x": {"datum": 2006.761, "type": "quantitative", "axis": {"orient": "top", "offset": -621, "values": [2007, 2008, 2009, 2010], "tickSize": -7, "labels": false, "title": null}},
            "x2": {"datum": 2010.245},
            "y": {"datum": 0, "type": "quantitative", "axis": {"orient": "right", "offset": -297.3, "values": [0, 1, 2, 3, 4], "tickSize": -7, "labels": false, "title": null}},
            "y2": {"datum": 4}
          }
        },
        {
          "data": {"values": [{"t0": 2009.918, "v0": 2.277, "t1": 2009.315, "v1": 2.277}]},
          "mark": {"type": "rule", "color": "#000000", "strokeWidth": 2.5},
          "encoding": {
            "x": {"field": "t0", "type": "quantitative", "axis": null},
            "y": {"field": "v0", "type": "quantitative", "axis": null},
            "x2": {"field": "t1"},
            "y2": {"field": "v1"}
          }
        },
        {
          "data": {"values": [{"t1": 2009.315, "v1": 2.277}]},
          "mark": {"type": "point", "shape": "M0,0L-1,-0.4L-1,0.4Z", "size": 1156, "angle": 180, "filled": true, "color": "#000000", "opacity": 1, "strokeWidth": 0},
          "encoding": {
            "x": {"field": "t1", "type": "quantitative", "axis": null},
            "y": {"field": "v1", "type": "quantitative", "axis": null}
          }
        }
      ],
      "resolve": {"axis": {"x": "independent", "y": "independent"}}
    },
    {
      "layer": [
        {
          "data": {"name": "series"},
          "mark": {"type": "line", "color": "#0000ff", "strokeWidth": 1.05, "strokeJoin": "bevel"},
          "encoding": {
            "x": {"field": "t", "type": "quantitative", "scale": {"domain": [2006.761, 2010.245], "range": [27.3, 810.7], "nice": false, "zero": false},
                  "axis": {"orient": "bottom", "offset": -138.7, "values": [2007, 2008, 2009, 2010], "format": "d", "tickSize": -7, "labelPadding": 14, "title": null}},
            "y": {"field": "s", "type": "quantitative", "scale": {"domain": [0, 4], "range": [934.3, 806], "nice": false, "zero": false},
                  "axis": {"orient": "left", "offset": -27.3, "values": [0, 2, 4], "tickSize": -7, "labelPadding": 12, "title": null}}
          }
        },
        {
          "data": {"values": [{}]},
          "mark": {"type": "rect", "opacity": 0},
          "encoding": {
            "x": {"datum": 2006.761, "type": "quantitative", "axis": {"orient": "top", "offset": -806, "values": [2007, 2008, 2009, 2010], "tickSize": -7, "labels": false, "title": null}},
            "x2": {"datum": 2010.245},
            "y": {"datum": 0, "type": "quantitative", "axis": {"orient": "right", "offset": -297.3, "values": [0, 2, 4], "tickSize": -7, "labels": false, "title": null}},
            "y2": {"datum": 4}
          }
        },
        {
          "data": {"values": [{"t0": 2009.916, "v0": -2.257, "t1": 2009.322, "v1": 0.343}]},
          "mark": {"type": "rule", "color": "#000000", "strokeWidth": 2.5},
          "encoding": {
            "x": {"field": "t0", "type": "quantitative", "axis": null},
            "y": {"field": "v0", "type": "quantitative", "axis": null},
            "x2": {"field": "t1"},
            "y2": {"field": "v1"}
          }
        },
        {
          "data": {"values": [{"t1": 2009.322, "v1": 0.343}]},
          "mark": {"type": "point", "shape": "M0,0L-1,-0.4L-1,0.4Z", "size": 1156, "angle": 212, "filled": true, "color": "#000000", "opacity": 1, "strokeWidth": 0},
          "encoding": {
            "x": {"field": "t1", "type": "quantitative", "axis": null},
            "y": {"field": "v1", "type": "quantitative", "axis": null}
          }
        }
      ],
      "resolve": {"axis": {"x": "independent", "y": "independent"}}
    },
    {
      "data": {"name": "steps"},
      "layer": [
        {
          "mark": {"type": "bar", "cornerRadius": 13, "fill": "#7a7a7a", "opacity": 0.18, "yOffset": 4, "xOffset": 1},
          "encoding": {
            "x": {"datum": 0, "type": "quantitative", "scale": {"domain": [0, 1], "range": [755, 1105.5], "nice": false, "zero": false}, "axis": null},
            "x2": {"datum": 1},
            "y": {"field": "step", "type": "ordinal", "scale": {"type": "band", "domain": [1, 2, 3, 4, 5, 6, 7], "range": [7.3, 1070], "paddingInner": 0.3415, "paddingOuter": 0}, "axis": null}
          }
        },
        {
          "mark": {"type": "bar", "cornerRadius": 13, "fill": "#6a6a6a", "opacity": 0.35, "yOffset": 2},
          "encoding": {
            "x": {"datum": 0, "type": "quantitative", "axis": null},
            "x2": {"datum": 1},
            "y": {"field": "step", "type": "ordinal", "axis": null}
          }
        },
        {
          "mark": {"type": "bar", "cornerRadius": 13, "stroke": "#b8b8b8", "strokeWidth": 1,
                   "fill": {"gradient": "linear", "x1": 0, "y1": 0, "x2": 0, "y2": 1, "stops": [{"offset": 0, "color": "#fbfbfb"}, {"offset": 1, "color": "#e4e4e4"}]}},
          "encoding": {
            "x": {"datum": 0, "type": "quantitative", "axis": null},
            "x2": {"datum": 1},
            "y": {"field": "step", "type": "ordinal", "axis": null}
          }
        },
        {
          "mark": {"type": "text", "font": "DejaVu Sans", "fontSize": 25, "lineHeight": 28, "color": "#1e1e1e", "align": "center", "baseline": "middle"},
          "encoding": {
            "x": {"datum": 0.5, "type": "quantitative", "axis": null},
            "y": {"field": "step", "type": "ordinal", "axis": null},
            "text": {"field": "label", "type": "nominal"}
          }
        },
        {
          "transform": [{"filter": "datum.step < 7"}],
          "mark": {"type": "point", "shape": "M-0.65,-0.67L0.65,-0.67L0.65,0.06L1,0.06L0,0.67L-1,0.06L-0.65,0.06Z", "size": 3600, "filled": true, "fill": "#f6f6f6", "stroke": "#d4d4d4", "strokeWidth": 2, "opacity": 1, "yOffset": 80},
          "encoding": {
            "x": {"datum": 0.5, "type": "quantitative", "axis": null},
            "y": {"field": "step", "type": "ordinal", "axis": null}
          }
        }
      ]
    }
  ],
  "resolve": {"scale": {"x": "independent", "y": "independent"}, "axis": {"x": "independent", "y": "independent"}}
}
